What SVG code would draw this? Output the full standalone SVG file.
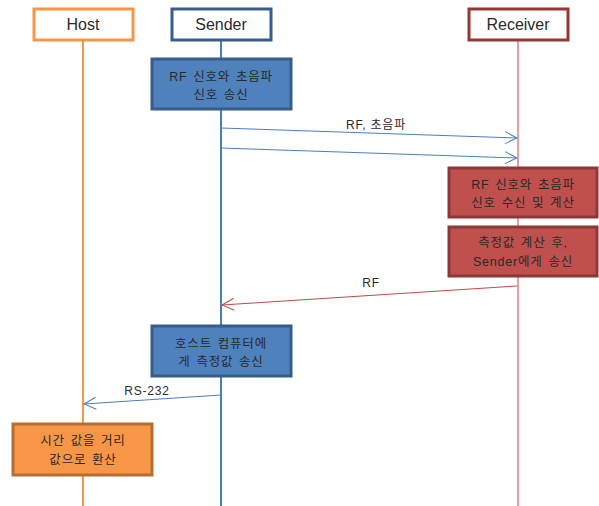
<svg xmlns="http://www.w3.org/2000/svg" width="599" height="506" viewBox="0 0 599 506">
<style>
text{font-family:"Liberation Sans","Noto Sans CJK KR",sans-serif;fill:#2a2a2a;text-anchor:middle}
.hd{font-size:16px}
.lb{font-size:12.5px;letter-spacing:0.8px;word-spacing:1.5px}
.ml{font-size:12px;letter-spacing:0.8px}
.head{fill:#fff;stroke-width:3}
.act{stroke-width:3}
</style>
<defs>
<marker id="ab" viewBox="0 0 14 14" refX="13" refY="7" markerWidth="14" markerHeight="14" markerUnits="userSpaceOnUse" orient="auto"><path d="M1,1 L13,7 L1,13" fill="none" stroke="#4A7EBB" stroke-width="1"/></marker>
<marker id="ar" viewBox="0 0 14 14" refX="13" refY="7" markerWidth="14" markerHeight="14" markerUnits="userSpaceOnUse" orient="auto"><path d="M1,1 L13,7 L1,13" fill="none" stroke="#BE4B48" stroke-width="1"/></marker>
</defs>
<g id="lifelines">
<line x1="83" y1="40" x2="83" y2="506" stroke="#F79646" stroke-width="2"/>
<line x1="221" y1="40" x2="221" y2="506" stroke="#4A7EBB" stroke-width="2"/>
<line x1="518" y1="40" x2="518" y2="506" stroke="#D9827F" stroke-width="1.5"/>
</g>
<g id="host">
<rect class="head" x="34" y="9" width="99" height="31" stroke="#F79646"/>
<text class="hd" x="83" y="30">Host</text>
</g>
<g id="sender">
<rect class="head" x="172" y="9" width="99" height="31" stroke="#385D8A"/>
<text class="hd" x="221" y="30">Sender</text>
</g>
<g id="receiver">
<rect class="head" x="469" y="9" width="99" height="31" stroke="#953735"/>
<text class="hd" x="518" y="30">Receiver</text>
</g>
<g id="send1">
<rect class="act" x="152" y="59" width="139" height="50" fill="#4F81BD" stroke="#385D8A"/>
<text class="lb" x="221" y="81">RF 신호와 초음파</text>
<text class="lb" x="221" y="99">신호 송신</text>
</g>
<g id="recv1">
<rect class="act" x="449" y="168" width="148" height="49" fill="#C0504D" stroke="#8C3836"/>
<text class="lb" x="523" y="189">RF 신호와 초음파</text>
<text class="lb" x="523" y="207">신호 수신 및 계산</text>
</g>
<g id="recv2">
<rect class="act" x="449" y="227" width="148" height="49" fill="#C0504D" stroke="#8C3836"/>
<text class="lb" x="523" y="247">측정값 계산 후,</text>
<text class="lb" x="523" y="266">Sender에게 송신</text>
</g>
<g id="send2">
<rect class="act" x="152" y="326" width="139" height="50" fill="#4F81BD" stroke="#385D8A"/>
<text class="lb" x="221" y="348">호스트 컴퓨터에</text>
<text class="lb" x="221" y="366">게 측정값 송신</text>
</g>
<g id="host2">
<rect class="act" x="13" y="424" width="139" height="51" fill="#F79646" stroke="#B66D31"/>
<text class="lb" x="83" y="445">시간 값을 거리</text>
<text class="lb" x="83" y="464">값으로 환산</text>
</g>
<g id="connectors">
<line x1="221" y1="128" x2="517" y2="138" stroke="#4A7EBB" stroke-width="1" marker-end="url(#ab)"/>
<text class="ml" x="376" y="129">RF, 초음파</text>
<line x1="221" y1="148" x2="517" y2="158" stroke="#4A7EBB" stroke-width="1" marker-end="url(#ab)"/>
<line x1="517" y1="286" x2="222" y2="305" stroke="#BE4B48" stroke-width="1" marker-end="url(#ar)"/>
<text class="ml" x="371" y="287">RF</text>
<line x1="221" y1="395" x2="84" y2="404" stroke="#4A7EBB" stroke-width="1" marker-end="url(#ab)"/>
<text class="ml" x="147" y="395">RS-232</text>
</g>
</svg>
